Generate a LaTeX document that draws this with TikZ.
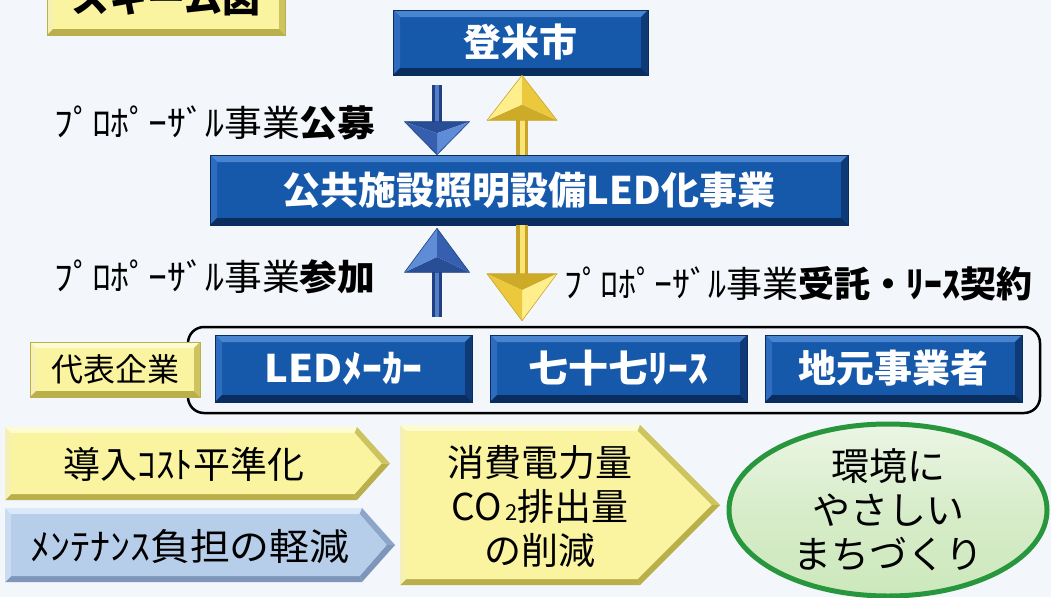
\documentclass[tikz,border=0pt]{standalone}
\usepackage{fontspec}
\usepackage{graphicx}
\setmainfont{Noto Sans CJK JP}
\usetikzlibrary{calc,shapes.geometric}
\definecolor{bg}{RGB}{243,246,250}
\definecolor{blueF}{RGB}{22,88,170}
\definecolor{blueT}{RGB}{72,132,208}
\definecolor{blueL}{RGB}{45,108,190}
\definecolor{blueR}{RGB}{14,58,120}
\definecolor{blueB}{RGB}{10,45,95}
\definecolor{ylwF}{RGB}{250,244,160}
\definecolor{ylwT}{RGB}{253,251,210}
\definecolor{ylwL}{RGB}{246,240,180}
\definecolor{ylwR}{RGB}{205,195,95}
\definecolor{ylwB}{RGB}{185,175,75}
\definecolor{lbF}{RGB}{183,206,234}
\definecolor{lbT}{RGB}{218,232,247}
\definecolor{lbL}{RGB}{202,220,241}
\definecolor{lbR}{RGB}{140,165,200}
\definecolor{lbB}{RGB}{125,150,185}
\definecolor{bArrT}{RGB}{40,78,150}
\definecolor{bArrL}{RGB}{95,140,215}
\definecolor{bArrR}{RGB}{55,95,175}
\definecolor{bArrD}{RGB}{30,65,130}
\definecolor{bArrS}{RGB}{85,125,200}
\definecolor{gArrT}{RGB}{205,170,40}
\definecolor{gArrL}{RGB}{255,238,140}
\definecolor{gArrR}{RGB}{235,200,60}
\definecolor{gArrD}{RGB}{200,165,40}
\definecolor{gArrS}{RGB}{250,228,120}
\definecolor{grnE}{RGB}{40,150,60}
\definecolor{grnF}{RGB}{205,232,188}
\newcommand\bevelfill[5]{%
  \def\bw{#1}%
  \fill[#2] (path picture bounding box.north west) -- (path picture bounding box.north east) -- ([xshift=-\bw,yshift=-\bw]path picture bounding box.north east) -- ([xshift=\bw,yshift=-\bw]path picture bounding box.north west) -- cycle;
  \fill[#3] (path picture bounding box.north west) -- (path picture bounding box.south west) -- ([xshift=\bw,yshift=\bw]path picture bounding box.south west) -- ([xshift=\bw,yshift=-\bw]path picture bounding box.north west) -- cycle;
  \fill[#4] (path picture bounding box.north east) -- (path picture bounding box.south east) -- ([xshift=-\bw,yshift=\bw]path picture bounding box.south east) -- ([xshift=-\bw,yshift=-\bw]path picture bounding box.north east) -- cycle;
  \fill[#5] (path picture bounding box.south west) -- (path picture bounding box.south east) -- ([xshift=-\bw,yshift=\bw]path picture bounding box.south east) -- ([xshift=\bw,yshift=\bw]path picture bounding box.south west) -- cycle;
}
\newcommand\pent[6]{%
  \pgfmathsetmacro\pym{(#2+#5)/2}%
  \def\bv{6}%
  \pgfmathsetmacro\qx{#1+\bv}\pgfmathsetmacro\qyt{#2+\bv}\pgfmathsetmacro\qyb{#5-\bv}%
  \pgfmathsetmacro\qxb{#3-0.4*\bv}\pgfmathsetmacro\qxt{#4-1.4*\bv}%
  \fill[#6T] (#1,#2) -- (#3,#2) -- (\qxb,\qyt) -- (\qx,\qyt) -- cycle;
  \fill[#6R] (#3,#2) -- (#4,\pym) -- (\qxt,\pym) -- (\qxb,\qyt) -- cycle;
  \fill[#6B] (#4,\pym) -- (#3,#5) -- (\qxb,\qyb) -- (\qxt,\pym) -- cycle;
  \fill[#6B] (#3,#5) -- (#1,#5) -- (\qx,\qyb) -- (\qxb,\qyb) -- cycle;
  \fill[#6L] (#1,#5) -- (#1,#2) -- (\qx,\qyt) -- (\qx,\qyb) -- cycle;
  \fill[#6F] (\qx,\qyt) -- (\qxb,\qyt) -- (\qxt,\pym) -- (\qxb,\qyb) -- (\qx,\qyb) -- cycle;
}
\newcommand\ahead[4]{%
  \coordinate (hc) at ($(#1)!0.35!(#2)$);
  \coordinate (hl) at ($(#1)!#3!90:(#2)$);
  \coordinate (hr) at ($(#1)!#3!-90:(#2)$);
  \fill[#4T] (hl) -- (hr) -- (hc) -- cycle;
  \fill[#4L] (hl) -- (#2) -- (hc) -- cycle;
  \fill[#4R] (hr) -- (#2) -- (hc) -- cycle;
  \draw[#4D, line width=0.6pt, line join=round] (hl) -- (hr) -- (#2) -- cycle;
}
\newcommand\hstretch[2]{\scalebox{#1}[1]{#2}}
\tikzset{
  bluebox/.style={rectangle, fill=blueF, draw=blueB, line width=0.6pt, text=white,
    inner sep=0pt, font=\bfseries\fontsize{38}{42}\selectfont,
    path picture={\bevelfill{7pt}{blueT}{blueL}{blueR}{blueB}}},
  ylwbox/.style={rectangle, fill=ylwF, draw=ylwB, line width=0.6pt, text=black,
    inner sep=0pt, path picture={\bevelfill{6pt}{ylwT}{ylwL}{ylwR}{ylwB}}},
  lbl/.style={anchor=west, inner sep=0pt, font=\fontsize{36}{40}\selectfont},
  arrtxt/.style={inner sep=0pt, align=center, font=\fontsize{37}{44}\selectfont},
}
\begin{document}
\begin{tikzpicture}[x=1pt,y=-1pt]
\useasboundingbox (0,0) rectangle (1051,597);
\fill[bg] (0,0) rectangle (1051,597);
\coordinate (colA) at (437,0);
\coordinate (colB) at (522,0);

% title
\node[ylwbox, minimum width=238pt, minimum height=72pt, font=\bfseries\fontsize{38}{38}\selectfont] (title) at (166,-1) {スキーム図};

% main nodes
\node[bluebox, minimum width=255pt, minimum height=65pt] (city) at (520.5,42.5) {登米市};
\node[bluebox, minimum width=638pt, minimum height=70pt] (main) at (529,190) {公共施設照明設備LED化事業};

% group
\node[draw=black, line width=2.5pt, rounded corners=16pt, minimum width=852pt, minimum height=86pt] (group) at (614,370) {};
\node[ylwbox, minimum width=170pt, minimum height=55pt, font=\fontsize{32}{36}\selectfont] (rep) at (115,369.5) {代表企業};
\node[bluebox, minimum width=257pt, minimum height=67pt] (led) at (343.5,368.5) {\hstretch{1.05}{LEDﾒｰｶｰ}};
\node[bluebox, minimum width=257pt, minimum height=67pt] (lease) at (618.5,368.5) {\hstretch{1.05}{七十七ﾘｰｽ}};
\node[bluebox, minimum width=257pt, minimum height=67pt] (local) at (893.5,368.5) {地元事業者};

% blue down arrow (city -> main)
\coordinate (a1s) at ($(city.south -| colA)+(0pt,-10pt)$);
\coordinate (a1e) at (main.north -| colA);
\coordinate (a1b) at ($(a1e)+(0pt,33pt)$);
\draw[line width=10pt, bArrD] (a1s) -- (a1b);
\draw[line width=4pt, bArrS] (a1s) -- (a1b);
\ahead{a1b}{a1e}{32.5pt}{bArr}

% yellow double arrow (main <-> city, main <-> group)
\coordinate (a2t) at (city.south -| colB);
\coordinate (a2tb) at ($(a2t)+(0pt,-45pt)$);
\coordinate (a2u) at ($(group.north -| colB)+(0pt,5pt)$);
\coordinate (a2ub) at ($(a2u)+(0pt,47pt)$);
\draw[line width=12pt, gArrD] (a2tb) -- (main.north -| colB);
\draw[line width=5pt, gArrS] (a2tb) -- (main.north -| colB);
\draw[line width=12pt, gArrD] (main.south -| colB) -- (a2ub);
\draw[line width=5pt, gArrS] (main.south -| colB) -- (a2ub);
\ahead{a2tb}{a2t}{35pt}{gArr}
\ahead{a2ub}{a2u}{35pt}{gArr}

% blue up arrow (group -> main)
\coordinate (a3s) at ($(group.north -| colA)+(0pt,9pt)$);
\coordinate (a3e) at ($(main.south -| colA)+(0pt,-3pt)$);
\coordinate (a3b) at ($(a3e)+(0pt,-44pt)$);
\draw[line width=10pt, bArrD] (a3s) -- (a3b);
\draw[line width=4pt, bArrS] (a3s) -- (a3b);
\ahead{a3b}{a3e}{32.5pt}{bArr}

% labels
\node[lbl] (l1) at (54,123) {\hstretch{1.05}{ﾌﾟﾛﾎﾟｰｻﾞﾙ事業\textbf{公募}}};
\node[lbl] (l2) at (54,277) {\hstretch{1.05}{ﾌﾟﾛﾎﾟｰｻﾞﾙ事業\textbf{参加}}};
\node[lbl] (l3) at (564,284) {\hstretch{1.0}{ﾌﾟﾛﾎﾟｰｻﾞﾙ事業\textbf{受託・ﾘｰｽ契約}}};

% effect arrows
\pent{5}{427}{357}{390}{500}{ylw}
\node[arrtxt] (cost) at (184,464) {導入ｺｽﾄ平準化};
\pent{5}{508}{362}{395}{582}{lb}
\node[arrtxt] (maint) at (190,546) {\hstretch{1.08}{ﾒﾝﾃﾅﾝｽ負担の軽減}};
\pent{400}{425}{640}{720}{585}{ylw}
\node[arrtxt] (energy) at (540,506) {消費電力量\\CO{\fontsize{22}{22}\selectfont\,2}排出量\\の削減};

% ellipse
\node[ellipse, draw=grnE, line width=5pt, top color=white!60!grnF, bottom color=grnF, middle color=grnF!80!white, minimum width=318pt, minimum height=172pt, inner sep=0pt] (eco) at (888,510) {};
\node[arrtxt, font=\fontsize{38}{44}\selectfont] (ecotxt) at (eco.center) {環境に\\やさしい\\まちづくり};
\end{tikzpicture}
\end{document}
